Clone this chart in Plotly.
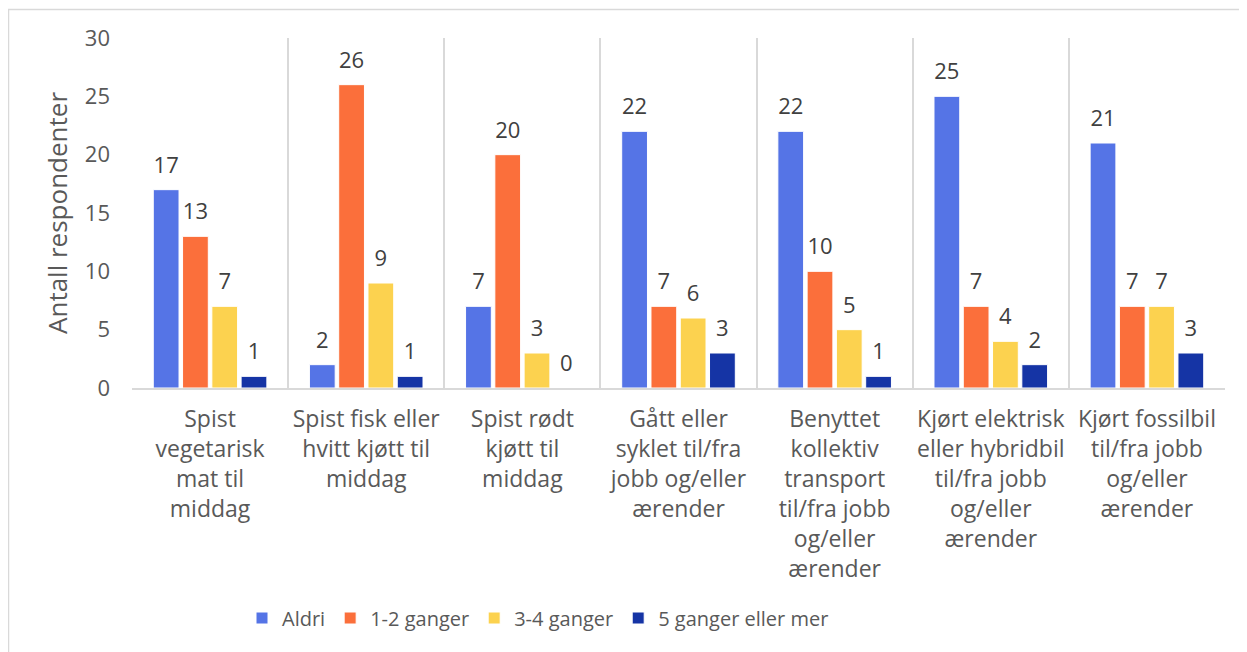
import plotly.graph_objects as go

categories = [
    "Spist<br>vegetarisk<br>mat til<br>middag",
    "Spist fisk eller<br>hvitt kjøtt til<br>middag",
    "Spist rødt<br>kjøtt til<br>middag",
    "Gått eller<br>syklet til/fra<br>jobb og/eller<br>ærender",
    "Benyttet<br>kollektiv<br>transport<br>til/fra jobb<br>og/eller<br>ærender",
    "Kjørt elektrisk<br>eller hybridbil<br>til/fra jobb<br>og/eller<br>ærender",
    "Kjørt fossilbil<br>til/fra jobb<br>og/eller<br>ærender",
]
series_names = ["Aldri", "1-2 ganger", "3-4 ganger", "5 ganger eller mer"]
aldri = [17, 2, 7, 22, 22, 25, 21]
en_to = [13, 26, 20, 7, 10, 7, 7]
tre_fire = [7, 9, 3, 6, 5, 4, 7]
fem_pluss = [1, 1, 0, 3, 1, 2, 3]
y_ticks = [0, 5, 10, 15, 20, 25, 30]

colors = ["#5574E6", "#FB6F3B", "#FCD24F", "#1534A5"]
values = [aldri, en_to, tre_fire, fem_pluss]

FONT = "Open Sans"
OFF = 8  # page body margin
W, H = 1247 - OFF, 652 - OFF
ML, MT = 132 - OFF, 38 - OFF
PLOT_R, PLOT_B = 1225 - OFF, 388 - OFF
MR, MB = W - PLOT_R, H - PLOT_B
PW = PLOT_R - ML
PH = PLOT_B - MT

fig = go.Figure()
for i, (name, vals, col) in enumerate(zip(series_names, values, colors)):
    fig.add_trace(go.Bar(
        name=name, x=categories, y=vals, offsetgroup=str(i),
        marker=dict(color=col, line=dict(color="white", width=1)),
    ))
for i, vals in enumerate(values):
    fig.add_trace(go.Scatter(
        x=categories, y=vals, offsetgroup=str(i), mode="markers+text",
        marker=dict(size=17, opacity=0), text=[str(v) for v in vals],
        textposition="top center", showlegend=False, hoverinfo="skip",
        textfont=dict(family=FONT, size=22, color="#404040"), cliponaxis=False,
    ))

def px_x(p):
    return (p - OFF - ML) / PW

def px_y(p):
    return (PLOT_B - (p - OFF)) / PH

fig.update_layout(
    width=W, height=H,
    margin=dict(l=ML, r=MR, t=MT, b=MB),
    paper_bgcolor="white", plot_bgcolor="white",
    barmode="group", bargap=0.25, bargroupgap=0.12,
    scattermode="group", scattergap=0.25,
    font=dict(family=FONT, size=20, color="#595959"),
    showlegend=True,
    legend=dict(orientation="h", x=px_x(538), xanchor="center", y=px_y(618), yanchor="middle",
                font=dict(family=FONT, size=20, color="#595959"),
                itemwidth=30, traceorder="normal"),
    xaxis=dict(
        tickson="boundaries", showgrid=True, gridcolor="#D9D9D9", gridwidth=1.5,
        showline=True, linecolor="#D9D9D9", linewidth=1.5, ticks="",
        tickfont=dict(family=FONT, size=23, color="#595959"), ticklabelstandoff=10,
    ),
    yaxis=dict(
        range=[0, 30], tickvals=y_ticks, showgrid=False, zeroline=False, showline=False,
        tickfont=dict(family=FONT, size=22, color="#595959"), ticks="",
        ticklabelstandoff=21,
        title=dict(text="Antall respondenter", font=dict(family=FONT, size=26, color="#595959"),
                   standoff=9),
    ),
    shapes=[dict(type="rect", xref="paper", yref="paper",
                 x0=px_x(8.5), x1=px_x(1270), y0=px_y(680), y1=px_y(9.5),
                 line=dict(color="#D9D9D9", width=1.5), fillcolor="rgba(0,0,0,0)", layer="below")],
)

fig.write_html("out.html")
